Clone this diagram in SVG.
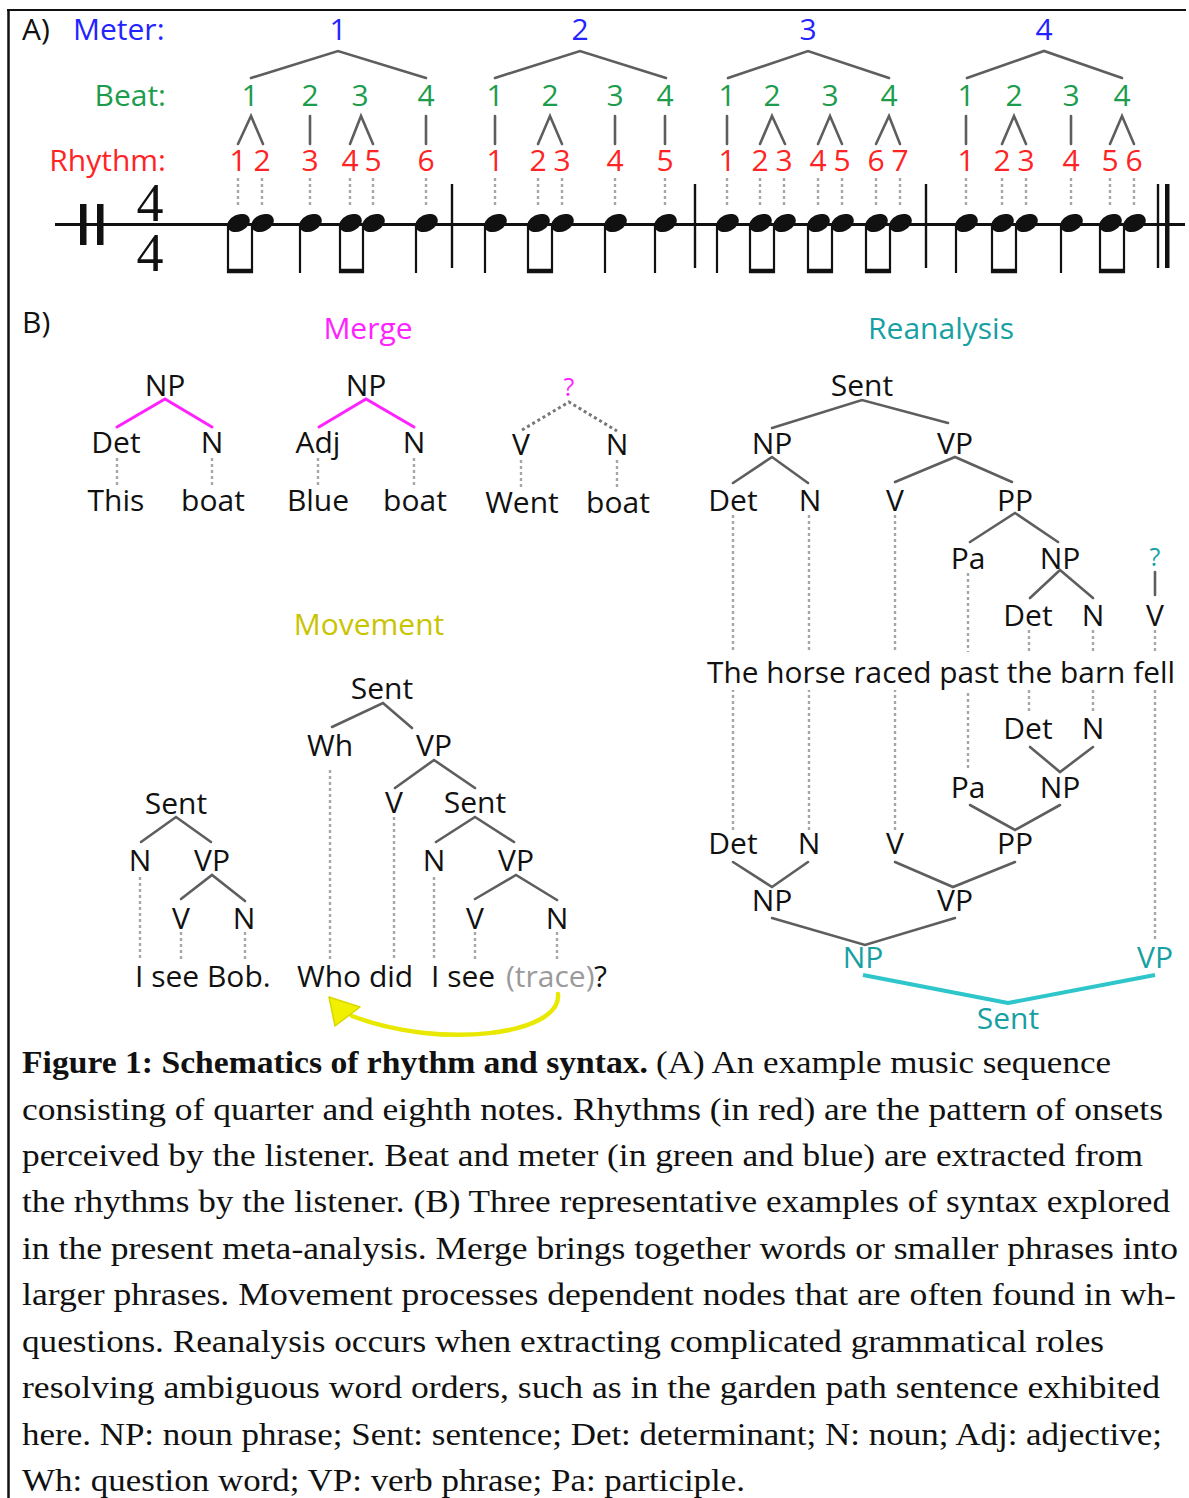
<svg xmlns="http://www.w3.org/2000/svg" xmlns:xlink="http://www.w3.org/1999/xlink" width="1189" height="1498" viewBox="0 0 1189 1498">
  <style>
    .lbl { font-family: "Open Sans", "Noto Sans", sans-serif; font-size: 30px; fill: #111; text-anchor: middle; font-weight: 500; }
    .start { text-anchor: start; }
    .end { text-anchor: end; }
    .meter { fill: #2323ff; }
    .beat { fill: #1c9c4c; }
    .rhy { fill: #ff2424; }
    .mag { fill: #ff22ff; }
    .teal { fill: #17a0a4; }
    .yel { fill: #c9c400; }
    .trace { fill: #9a9a9a; }
    .edge { stroke: #5e5e5e; stroke-width: 2.6; fill: none; stroke-linecap: round; }
    .medge { stroke: #ff22ff; stroke-width: 3; fill: none; stroke-linecap: round; }
    .qedge { stroke: #777; stroke-width: 3; fill: none; stroke-dasharray: 3 3; }
    .tedge { stroke: #2ec6ca; stroke-width: 4; fill: none; stroke-linejoin: round; }
    .dot { stroke: #a6a6a6; stroke-width: 2.4; fill: none; stroke-dasharray: 3 3; }
    .stem { stroke: #111; stroke-width: 2.2; }
    .beam { stroke: #111; stroke-width: 4.5; }
    .bar { stroke: #111; stroke-width: 2.4; }
    .cap { font-family: "Liberation Serif", "Times New Roman", serif; font-size: 31px; fill: #111; }
    .capb { font-weight: bold; }
    .timesig { font-family: "Liberation Serif", "Times New Roman", serif; font-size: 54px; fill: #111; text-anchor: middle; }
  </style>
  <defs>
    <ellipse id="head" cx="0" cy="0" rx="11.8" ry="8.4" transform="rotate(-25)" fill="#111"/>
  </defs>

  <rect width="1189" height="1498" fill="#fff"/>
  <!-- frame -->
  <line x1="8.5" y1="9" x2="8.5" y2="1498" stroke="#111" stroke-width="2.5"/>
  <line x1="7" y1="10" x2="1186" y2="10" stroke="#111" stroke-width="2.2"/>

  <!-- ===== Part A: meter / beat / rhythm ===== -->
  <g id="part-a-labels">
    <text class="lbl start" x="22" y="40">A)</text>
    <text class="lbl start meter" x="73" y="40">Meter:</text>
    <text class="lbl end beat" x="166" y="106">Beat:</text>
    <text class="lbl end rhy" x="166" y="171">Rhythm:</text>
  </g>

  <g id="meter">
    <text class="lbl meter" x="338" y="40">1</text>
    <text class="lbl meter" x="580" y="40">2</text>
    <text class="lbl meter" x="808" y="40">3</text>
    <text class="lbl meter" x="1044" y="40">4</text>
  </g>

  <g id="beats">
    <text class="lbl beat" x="250" y="106">1</text>
    <text class="lbl beat" x="310" y="106">2</text>
    <text class="lbl beat" x="360" y="106">3</text>
    <text class="lbl beat" x="426" y="106">4</text>
    <text class="lbl beat" x="495" y="106">1</text>
    <text class="lbl beat" x="550" y="106">2</text>
    <text class="lbl beat" x="615" y="106">3</text>
    <text class="lbl beat" x="665" y="106">4</text>
    <text class="lbl beat" x="727" y="106">1</text>
    <text class="lbl beat" x="772" y="106">2</text>
    <text class="lbl beat" x="830" y="106">3</text>
    <text class="lbl beat" x="889" y="106">4</text>
    <text class="lbl beat" x="966" y="106">1</text>
    <text class="lbl beat" x="1014" y="106">2</text>
    <text class="lbl beat" x="1071" y="106">3</text>
    <text class="lbl beat" x="1122" y="106">4</text>
  </g>

  <g id="rhythm">
    <text class="lbl rhy" x="238" y="171">1</text>
    <text class="lbl rhy" x="262" y="171">2</text>
    <text class="lbl rhy" x="310" y="171">3</text>
    <text class="lbl rhy" x="350" y="171">4</text>
    <text class="lbl rhy" x="373" y="171">5</text>
    <text class="lbl rhy" x="426" y="171">6</text>
    <text class="lbl rhy" x="495" y="171">1</text>
    <text class="lbl rhy" x="538" y="171">2</text>
    <text class="lbl rhy" x="562" y="171">3</text>
    <text class="lbl rhy" x="615" y="171">4</text>
    <text class="lbl rhy" x="665" y="171">5</text>
    <text class="lbl rhy" x="727" y="171">1</text>
    <text class="lbl rhy" x="760" y="171">2</text>
    <text class="lbl rhy" x="784" y="171">3</text>
    <text class="lbl rhy" x="818" y="171">4</text>
    <text class="lbl rhy" x="842" y="171">5</text>
    <text class="lbl rhy" x="876" y="171">6</text>
    <text class="lbl rhy" x="900" y="171">7</text>
    <text class="lbl rhy" x="966" y="171">1</text>
    <text class="lbl rhy" x="1002" y="171">2</text>
    <text class="lbl rhy" x="1026" y="171">3</text>
    <text class="lbl rhy" x="1071" y="171">4</text>
    <text class="lbl rhy" x="1110" y="171">5</text>
    <text class="lbl rhy" x="1134" y="171">6</text>
  </g>

  <g id="part-a-connectors">
    <!-- meter brackets -->
    <polyline class="edge" points="251,78 338,51 426,78"/>
    <polyline class="edge" points="495,78 580,51 666,78"/>
    <polyline class="edge" points="728,78 808,51 889,78"/>
    <polyline class="edge" points="967,78 1044,51 1122,78"/>
    <!-- beat to rhythm -->
    <polyline class="edge" points="238,144 251,116 263,144"/>
    <line class="edge" x1="310" y1="116" x2="310" y2="144"/>
    <polyline class="edge" points="350,144 361,116 373,144"/>
    <line class="edge" x1="426" y1="116" x2="426" y2="144"/>
    <line class="edge" x1="495" y1="116" x2="495" y2="144"/>
    <polyline class="edge" points="538,144 550,116 562,144"/>
    <line class="edge" x1="615" y1="116" x2="615" y2="144"/>
    <line class="edge" x1="665" y1="116" x2="665" y2="144"/>
    <line class="edge" x1="727" y1="116" x2="727" y2="144"/>
    <polyline class="edge" points="760,144 772,116 785,144"/>
    <polyline class="edge" points="818,144 830,116 842,144"/>
    <polyline class="edge" points="876,144 889,116 900,144"/>
    <line class="edge" x1="966" y1="116" x2="966" y2="144"/>
    <polyline class="edge" points="1002,144 1014,116 1026,144"/>
    <line class="edge" x1="1071" y1="116" x2="1071" y2="144"/>
    <polyline class="edge" points="1110,144 1122,116 1134,144"/>
    <!-- onset guides -->
    <path class="dot" d="M238 178V208M262 178V208M310 178V208M350 178V208M373 178V208M426 178V208
                         M495 178V208M538 178V208M562 178V208M615 178V208M665 178V208
                         M727 178V208M760 178V208M784 178V208M818 178V208M842 178V208M876 178V208M900 178V208
                         M966 178V208M1002 178V208M1026 178V208M1071 178V208M1110 178V208M1134 178V208"/>
  </g>

  <!-- staff -->
  <g id="staff">
    <line x1="55" y1="224.5" x2="1185" y2="224.5" stroke="#111" stroke-width="2.8"/>
    <rect x="80" y="204" width="6.5" height="41" fill="#111"/>
    <rect x="97" y="204" width="6.5" height="41" fill="#111"/>
    <!-- 4/4 time signature, stacked -->
    <text class="timesig" x="150" y="221">4<tspan x="150" dy="50">4</tspan></text>
    <!-- bar lines -->
    <line class="bar" x1="452" y1="184" x2="452" y2="268"/>
    <line class="bar" x1="695" y1="184" x2="695" y2="268"/>
    <line class="bar" x1="926" y1="184" x2="926" y2="268"/>
    <line class="bar" x1="1158" y1="184" x2="1158" y2="268"/>
    <rect x="1165" y="184" width="4.5" height="84" fill="#111"/>
    <!-- stems -->
    <path class="stem" d="M228 226V273M252 226V273M300 226V273M340 226V273M363 226V273M416 226V273
                          M485 226V273M528 226V273M552 226V273M605 226V273M655 226V273
                          M717 226V273M750 226V273M774 226V273M808 226V273M832 226V273M866 226V273M890 226V273
                          M956 226V273M992 226V273M1016 226V273M1061 226V273M1100 226V273M1124 226V273"/>
    <!-- beams -->
    <path class="beam" d="M227 271H253M339 271H364M527 271H553M749 271H775M807 271H833M865 271H891M991 271H1017M1099 271H1125"/>
    <!-- note heads -->
    <use xlink:href="#head" x="238.5" y="223"/>
    <use xlink:href="#head" x="262.5" y="223"/>
    <use xlink:href="#head" x="310.5" y="223"/>
    <use xlink:href="#head" x="350.5" y="223"/>
    <use xlink:href="#head" x="373.5" y="223"/>
    <use xlink:href="#head" x="426.5" y="223"/>
    <use xlink:href="#head" x="495.5" y="223"/>
    <use xlink:href="#head" x="538.5" y="223"/>
    <use xlink:href="#head" x="562.5" y="223"/>
    <use xlink:href="#head" x="615.5" y="223"/>
    <use xlink:href="#head" x="665.5" y="223"/>
    <use xlink:href="#head" x="727.5" y="223"/>
    <use xlink:href="#head" x="760.5" y="223"/>
    <use xlink:href="#head" x="784.5" y="223"/>
    <use xlink:href="#head" x="818.5" y="223"/>
    <use xlink:href="#head" x="842.5" y="223"/>
    <use xlink:href="#head" x="876.5" y="223"/>
    <use xlink:href="#head" x="900.5" y="223"/>
    <use xlink:href="#head" x="966.5" y="223"/>
    <use xlink:href="#head" x="1002.5" y="223"/>
    <use xlink:href="#head" x="1026.5" y="223"/>
    <use xlink:href="#head" x="1071.5" y="223"/>
    <use xlink:href="#head" x="1110.5" y="223"/>
    <use xlink:href="#head" x="1134.5" y="223"/>
  </g>

  <!-- ===== Part B ===== -->
  <g id="part-b-titles">
    <text class="lbl start" x="22" y="333">B)</text>
    <text class="lbl mag" x="368" y="339">Merge</text>
    <text class="lbl teal" x="941" y="339">Reanalysis</text>
    <text class="lbl yel" x="369" y="635">Movement</text>
  </g>

  <!-- connectors of all trees -->
  <g id="connectors">
    <!-- merge -->
    <polyline class="medge" points="117,427 165,399 212,427"/>
    <polyline class="medge" points="319,427 366,399 414,427"/>
    <polyline class="qedge" points="522,430 569,402 617,431"/>
    <path class="dot" d="M117 458V487M212 458V487M318 458V487M414 458V487M521 460V488M617 460V488"/>

    <!-- movement, simple sentence -->
    <polyline class="edge" points="141,842 176,817 211,842"/>
    <polyline class="edge" points="181,899 212,875 245,901"/>
    <!-- movement, wh-question -->
    <polyline class="edge" points="332,727 383,703 412,728"/>
    <polyline class="edge" points="395,788 434,760 475,788"/>
    <polyline class="edge" points="436,842 475,817 514,842"/>
    <polyline class="edge" points="475,899 516,875 557,900"/>
    <path class="dot" d="M140 877V960M181 932V960M245 932V960M330 770V960M394 817V960M434 877V960M475 932V960M557 932V960"/>
    <!-- movement arrow -->
    <path d="M558 994 C562 1035 440 1050 352 1016" fill="none" stroke="#e8e800" stroke-width="4.5" stroke-linecap="round"/>
    <polygon points="329,997 335,1026 360,1007" fill="#f0f000" stroke="#d8d800" stroke-width="1.5" stroke-linejoin="round"/>

    <!-- reanalysis, first parse -->
    <polyline class="edge" points="772,428 862,400 948,423"/>
    <polyline class="edge" points="733,483 772,457 808,483"/>
    <polyline class="edge" points="895,482 955,457 1012,482"/>
    <polyline class="edge" points="970,542 1015,513 1058,542"/>
    <polyline class="edge" points="1030,598 1060,570 1093,598"/>
    <line class="edge" x1="1155" y1="572" x2="1155" y2="595"/>
    <!-- word guides -->
    <path class="dot" d="M733 515V832M809 515V832M895 515V832M968 573V770M1029 630V714M1093 630V714M1155 630V942"/>
    <!-- reanalysis, second parse -->
    <polyline class="edge" points="733,862 772,887 808,862"/>
    <polyline class="edge" points="895,862 953,887 1015,862"/>
    <polyline class="edge" points="970,805 1015,830 1060,805"/>
    <polyline class="edge" points="1030,747 1060,772 1093,747"/>
    <polyline class="edge" points="772,918 865,945 955,918"/>
    <polyline class="tedge" points="863,975 1008,1003 1155,975"/>
  </g>

  <!-- merge nodes -->
  <g id="merge-1">
    <g id="m1-np"><text class="lbl" x="165" y="396">NP</text></g>
    <g id="m1-det"><text class="lbl" x="116" y="453">Det</text></g>
    <g id="m1-n"><text class="lbl" x="212" y="453">N</text></g>
    <g id="m1-w1"><text class="lbl" x="116" y="511">This</text></g>
    <g id="m1-w2"><text class="lbl" x="213" y="511">boat</text></g>
  </g>
  <g id="merge-2">
    <g id="m2-np"><text class="lbl" x="366" y="396">NP</text></g>
    <g id="m2-adj"><text class="lbl" x="318" y="453">Adj</text></g>
    <g id="m2-n"><text class="lbl" x="414" y="453">N</text></g>
    <g id="m2-w1"><text class="lbl" x="318" y="511">Blue</text></g>
    <g id="m2-w2"><text class="lbl" x="415" y="511">boat</text></g>
  </g>
  <g id="merge-3">
    <g id="m3-q"><text class="lbl mag" x="569" y="396" style="font-size:25px">?</text></g>
    <g id="m3-v"><text class="lbl" x="521" y="455">V</text></g>
    <g id="m3-n"><text class="lbl" x="617" y="455">N</text></g>
    <g id="m3-w1"><text class="lbl" x="522" y="513">Went</text></g>
    <g id="m3-w2"><text class="lbl" x="618" y="513">boat</text></g>
  </g>

  <!-- movement nodes -->
  <g id="mov-simple">
    <g id="mv1-sent"><text class="lbl" x="176" y="814">Sent</text></g>
    <g id="mv1-n"><text class="lbl" x="140" y="871">N</text></g>
    <g id="mv1-vp"><text class="lbl" x="212" y="871">VP</text></g>
    <g id="mv1-v"><text class="lbl" x="181" y="929">V</text></g>
    <g id="mv1-n2"><text class="lbl" x="244" y="929">N</text></g>
  </g>
  <g id="mov-question">
    <g id="mv2-sent"><text class="lbl" x="382" y="699">Sent</text></g>
    <g id="mv2-wh"><text class="lbl" x="330" y="756">Wh</text></g>
    <g id="mv2-vp"><text class="lbl" x="434" y="756">VP</text></g>
    <g id="mv2-v"><text class="lbl" x="394" y="813">V</text></g>
    <g id="mv2-sent2"><text class="lbl" x="475" y="813">Sent</text></g>
    <g id="mv2-n"><text class="lbl" x="434" y="871">N</text></g>
    <g id="mv2-vp2"><text class="lbl" x="516" y="871">VP</text></g>
    <g id="mv2-v2"><text class="lbl" x="475" y="929">V</text></g>
    <g id="mv2-n2"><text class="lbl" x="557" y="929">N</text></g>
  </g>
  <g id="mov-words">
    <text class="lbl start" x="135" y="987">I see Bob.</text>
    <text class="lbl start" x="297" y="987">Who did</text>
    <text class="lbl start" x="431" y="987">I see</text>
    <text class="lbl start trace" x="506" y="987">(trace)</text>
    <text class="lbl start" x="594" y="987">?</text>
  </g>

  <!-- reanalysis nodes: first parse -->
  <g id="rea-first">
    <g id="r1-sent"><text class="lbl" x="862" y="396">Sent</text></g>
    <g id="r1-np"><text class="lbl" x="772" y="454">NP</text></g>
    <g id="r1-vp"><text class="lbl" x="955" y="454">VP</text></g>
    <g id="r1-det"><text class="lbl" x="733" y="511">Det</text></g>
    <g id="r1-n"><text class="lbl" x="810" y="511">N</text></g>
    <g id="r1-v"><text class="lbl" x="895" y="511">V</text></g>
    <g id="r1-pp"><text class="lbl" x="1015" y="511">PP</text></g>
    <g id="r1-pa"><text class="lbl" x="968" y="569">Pa</text></g>
    <g id="r1-np2"><text class="lbl" x="1060" y="569">NP</text></g>
    <g id="r1-q"><text class="lbl teal" x="1155" y="566" style="font-size:25px">?</text></g>
    <g id="r1-det2"><text class="lbl" x="1028" y="626">Det</text></g>
    <g id="r1-n2"><text class="lbl" x="1093" y="626">N</text></g>
    <g id="r1-v2"><text class="lbl" x="1155" y="626">V</text></g>
  </g>
  <g id="rea-sentence">
    <rect x="704" y="652" width="474" height="38" fill="#fff"/>
    <text class="lbl start" x="707" y="683" textLength="468" lengthAdjust="spacingAndGlyphs">The horse raced past the barn fell</text>
  </g>
  <!-- reanalysis nodes: second parse -->
  <g id="rea-second">
    <g id="r2-det"><text class="lbl" x="1028" y="739">Det</text></g>
    <g id="r2-n"><text class="lbl" x="1093" y="739">N</text></g>
    <g id="r2-pa"><text class="lbl" x="968" y="798">Pa</text></g>
    <g id="r2-np"><text class="lbl" x="1060" y="798">NP</text></g>
    <g id="r2-det2"><text class="lbl" x="733" y="854">Det</text></g>
    <g id="r2-n2"><text class="lbl" x="809" y="854">N</text></g>
    <g id="r2-v"><text class="lbl" x="895" y="854">V</text></g>
    <g id="r2-pp"><text class="lbl" x="1015" y="854">PP</text></g>
    <g id="r2-np2"><text class="lbl" x="772" y="911">NP</text></g>
    <g id="r2-vp"><text class="lbl" x="955" y="911">VP</text></g>
    <g id="r2-np3"><text class="lbl teal" x="863" y="968">NP</text></g>
    <g id="r2-vp2"><text class="lbl teal" x="1155" y="968">VP</text></g>
    <g id="r2-sent"><text class="lbl teal" x="1008" y="1029">Sent</text></g>
  </g>

  <!-- caption -->
  <g id="caption">
    <text class="cap capb" x="22" y="1073" textLength="626" lengthAdjust="spacingAndGlyphs">Figure 1: Schematics of rhythm and syntax.</text>
    <text class="cap" x="656" y="1073" textLength="455" lengthAdjust="spacingAndGlyphs">(A) An example music sequence</text>
    <text class="cap" x="22" y="1120" textLength="1141" lengthAdjust="spacingAndGlyphs">consisting of quarter and eighth notes. Rhythms (in red) are the pattern of onsets</text>
    <text class="cap" x="22" y="1166" textLength="1121" lengthAdjust="spacingAndGlyphs">perceived by the listener. Beat and meter (in green and blue) are extracted from</text>
    <text class="cap" x="22" y="1212" textLength="1148" lengthAdjust="spacingAndGlyphs">the rhythms by the listener. (B) Three representative examples of syntax explored</text>
    <text class="cap" x="22" y="1259" textLength="1156" lengthAdjust="spacingAndGlyphs">in the present meta-analysis. Merge brings together words or smaller phrases into</text>
    <text class="cap" x="22" y="1305" textLength="1154" lengthAdjust="spacingAndGlyphs">larger phrases. Movement processes dependent nodes that are often found in wh-</text>
    <text class="cap" x="22" y="1352" textLength="1082" lengthAdjust="spacingAndGlyphs">questions. Reanalysis occurs when extracting complicated grammatical roles</text>
    <text class="cap" x="22" y="1398" textLength="1138" lengthAdjust="spacingAndGlyphs">resolving ambiguous word orders, such as in the garden path sentence exhibited</text>
    <text class="cap" x="22" y="1445" textLength="1140" lengthAdjust="spacingAndGlyphs">here. NP: noun phrase; Sent: sentence; Det: determinant; N: noun; Adj: adjective;</text>
    <text class="cap" x="22" y="1491" textLength="723" lengthAdjust="spacingAndGlyphs">Wh: question word; VP: verb phrase; Pa: participle.</text>
  </g>
</svg>
